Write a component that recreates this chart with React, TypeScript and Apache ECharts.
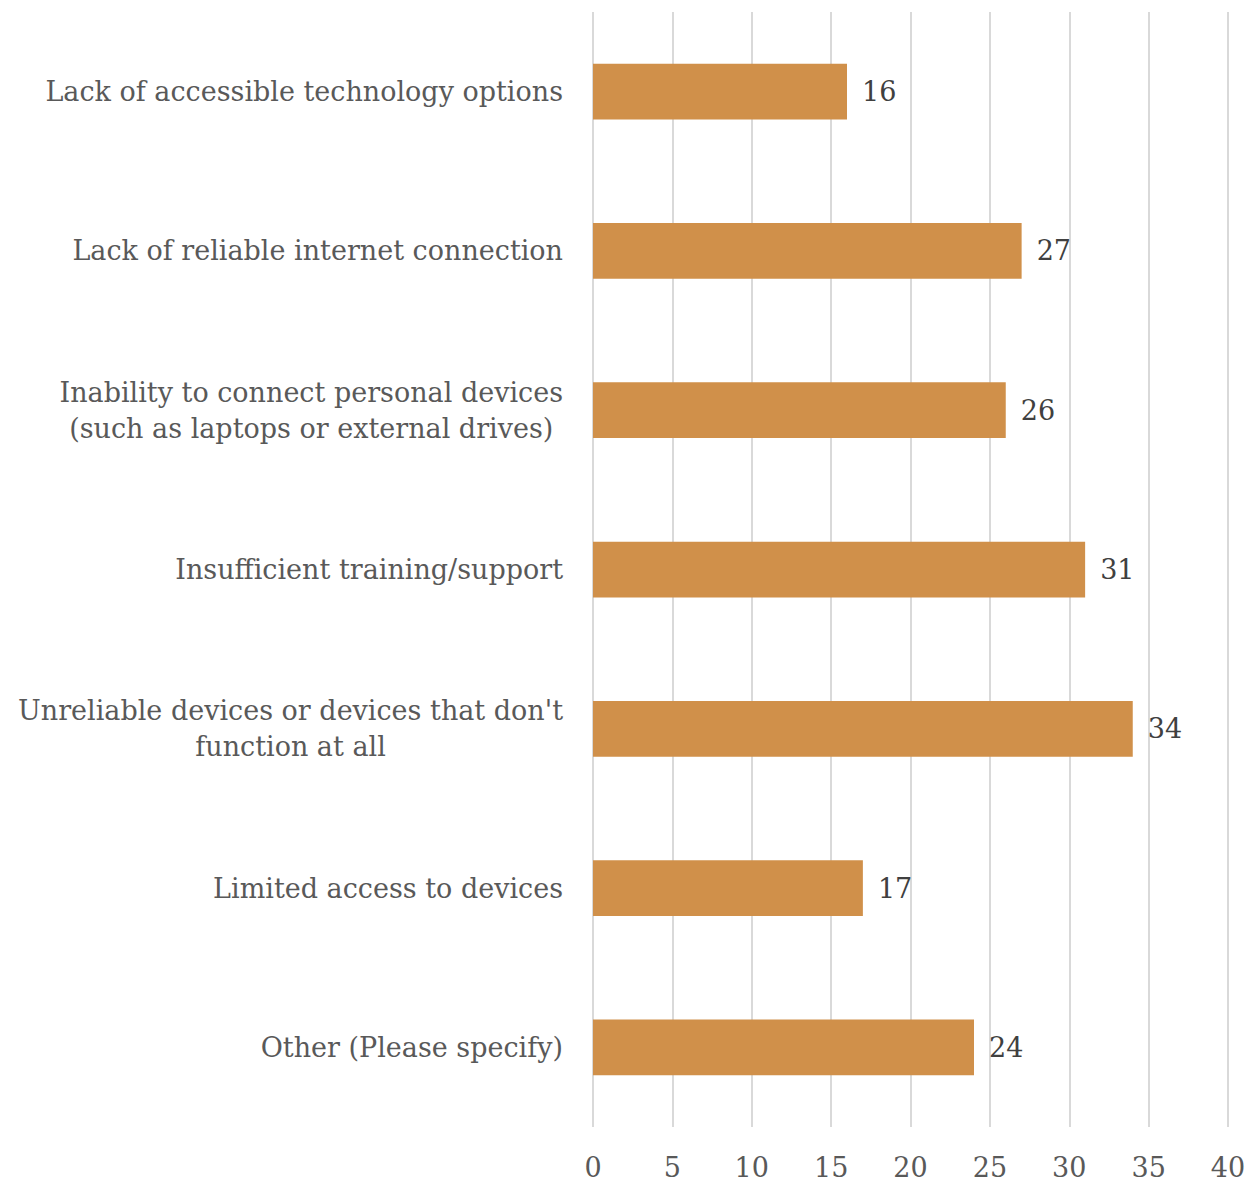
import React, { useEffect, useRef } from "react";
import * as echarts from "echarts";

const categories = [
  "Lack of accessible technology options",
  "Lack of reliable internet connection",
  "Inability to connect personal devices\n(such as laptops or external drives)",
  "Insufficient training/support",
  "Unreliable devices or devices that don't\nfunction at all",
  "Limited access to devices",
  "Other (Please specify)",
];
const values = [16, 27, 26, 31, 34, 17, 24];
const xTicks = [0, 5, 10, 15, 20, 25, 30, 35, 40];

const FONT = "DejaVu Serif";
const FS = 27;

export default function App() {
  const ref = useRef<HTMLDivElement>(null);
  useEffect(() => {
    if (!ref.current) return;
    const chart = echarts.init(ref.current, null, { renderer: "svg" });
    chart.setOption({
      animation: false,
      grid: { left: 593, right: 21, top: 12, bottom: 55, containLabel: false },
      xAxis: {
        type: "value",
        min: xTicks[0],
        max: xTicks[xTicks.length - 1],
        interval: 5,
        axisLine: { show: false },
        axisTick: { show: false },
        splitLine: { show: true, lineStyle: { color: "#d9d9d9", width: 2 } },
        axisLabel: {
          color: "#595959",
          fontFamily: FONT,
          fontSize: FS,
          margin: 27,
        },
      },
      yAxis: {
        type: "category",
        data: categories,
        inverse: true,
        axisLine: { show: false },
        axisTick: { show: false },
        axisLabel: {
          margin: 30,
          align: "right",
          formatter: (v: string) =>
            v
              .split("\n")
              .map((l) => `{c|${l}}`)
              .join("\n"),
          rich: {
            c: {
              align: "center",
              color: "#595959",
              fontFamily: FONT,
              fontSize: FS,
              lineHeight: 36,
            },
          },
        },
      },
      series: [
        {
          type: "bar",
          data: values,
          barCategoryGap: "65%",
          itemStyle: { color: "#D0904A" },
          label: {
            show: true,
            position: "right",
            distance: 15,
            color: "#404040",
            fontFamily: FONT,
            fontSize: FS,
          },
        },
      ],
    });
    return () => chart.dispose();
  }, []);
  return (
    <div
      ref={ref}
      style={{ position: "absolute", left: 0, top: 0, width: 1249, height: 1182 }}
    />
  );
}
